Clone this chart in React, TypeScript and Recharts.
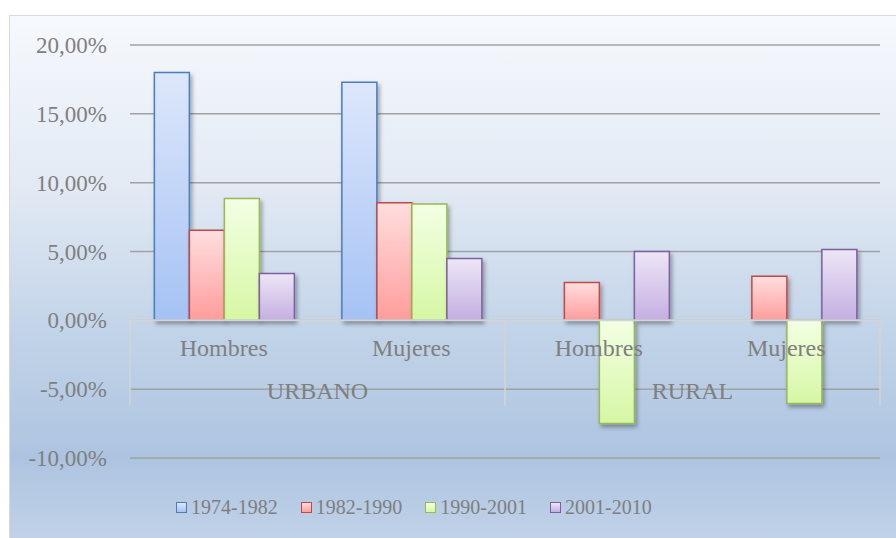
import { Bar, BarChart, CartesianGrid, ReferenceLine, XAxis, YAxis } from "recharts";

const categories = ["Hombres", "Mujeres", "Hombres", "Mujeres"];
const groups = ["URBANO", "URBANO", "RURAL", "RURAL"];
const p1974 = [18.0, 17.3, 0, 0];
const p1982 = [6.55, 8.55, 2.75, 3.2];
const p1990 = [8.85, 8.45, -7.5, -6.05];
const p2001 = [3.4, 4.5, 5.0, 5.15];
const yTicks = [-10, -5, 0, 5, 10, 15, 20];

const SERIES = [
  { key: "p1974", name: "1974-1982", stroke: "#4a7ebb", top: "#dde7fb", bottom: "#a5c2f4" },
  { key: "p1982", name: "1982-1990", stroke: "#be4b48", top: "#ffdede", bottom: "#ff9d9c" },
  { key: "p1990", name: "1990-2001", stroke: "#98b954", top: "#f3ffe4", bottom: "#d6f7a4" },
  { key: "p2001", name: "2001-2010", stroke: "#7d60a0", top: "#ede6f6", bottom: "#c4afe1" },
];

const data = categories.map((cat, i) => ({
  id: `${groups[i]}-${cat}`,
  cat,
  group: groups[i],
  p1974: p1974[i],
  p1982: p1982[i],
  p1990: p1990[i],
  p2001: p2001[i],
}));

const FONT = "'Liberation Serif', 'Times New Roman', serif";
const TEXT = "#7f7f7f";
const LINE = "#d4d4d4";

const fmt = (v: number) => `${v.toFixed(2).replace(".", ",")}%`;

// two-level category axis drawn along the zero line
function CategoryAxis(props: any) {
  const { x, y, width } = props.viewBox;
  const band = width / categories.length;
  const items: any[] = [];
  categories.forEach((c, i) => {
    items.push(
      <text key={`c${i}`} x={x + band * (i + 0.5)} y={y + 36} textAnchor="middle" fontSize={24} fill={TEXT} fontFamily={FONT}>
        {c}
      </text>
    );
    if (i === 0 || groups[i] !== groups[i - 1]) {
      let n = 1;
      while (groups[i + n] === groups[i]) n++;
      items.push(
        <line key={`s${i}`} x1={x + band * i} x2={x + band * i} y1={y} y2={y + 85} stroke={LINE} strokeWidth={1.5} />,
        <text key={`g${i}`} x={x + band * (i + n / 2)} y={y + 79} textAnchor="middle" fontSize={24} fill={TEXT} fontFamily={FONT}>
          {groups[i]}
        </text>
      );
    }
  });
  items.push(
    <line key="end" x1={x + width} x2={x + width} y1={y} y2={y + 85} stroke={LINE} strokeWidth={1.5} />
  );
  return <g>{items}</g>;
}

export default function App() {
  return (
    <div style={{ position: "absolute", left: 0, top: 0, width: 896, height: 538, overflow: "hidden" }}>
      <div
        style={{
          position: "absolute",
          left: 9,
          top: 15,
          width: 920,
          height: 560,
          border: "1px solid #d9d9d9",
          background:
            "linear-gradient(to bottom, #f6f9fd 0%, #e3eaf4 30%, #c1d3e8 57%, #adc4e0 79%, #c9d8ec 100%)",
        }}
      />
      <div style={{ position: "absolute", left: 0, top: 0 }}>
        <BarChart
          width={896}
          height={538}
          data={data}
          margin={{ top: 45, right: 16, bottom: 80, left: 0 }}
          barCategoryGap="13%"
          barGap={0}
        >
          <defs>
            {SERIES.map((s) => (
              <linearGradient key={s.key} id={`grad-${s.key}`} x1="0" y1="0" x2="0" y2="1">
                <stop offset="0%" stopColor={s.top} />
                <stop offset="100%" stopColor={s.bottom} />
              </linearGradient>
            ))}
            <filter id="barShadow" x="-20%" y="-20%" width="150%" height="150%">
              <feDropShadow dx="2" dy="3" stdDeviation="2" floodColor="#000" floodOpacity="0.35" />
            </filter>
          </defs>
          <CartesianGrid vertical={false} stroke="#a2a2a2" strokeWidth={1.5} />
          <XAxis dataKey="id" hide />
          <YAxis
            width={130}
            domain={[-10, 20]}
            ticks={yTicks}
            interval={0}
            tickFormatter={fmt}
            tickLine={false}
            axisLine={false}
            tickSize={0}
            tickMargin={23}
            tick={{ fill: TEXT, fontSize: 23, fontFamily: FONT }}
          />
          {SERIES.map((s) => (
            <Bar
              key={s.key}
              dataKey={s.key}
              name={s.name}
              fill={`url(#grad-${s.key})`}
              stroke={s.stroke}
              strokeWidth={1.5}
              filter="url(#barShadow)"
              isAnimationActive={false}
            />
          ))}
          <ReferenceLine y={0} stroke={LINE} strokeWidth={2} label={<CategoryAxis />} />
        </BarChart>
      </div>
      <div
        style={{
          position: "absolute",
          left: 176,
          top: 494,
          display: "flex",
          gap: 23,
          fontFamily: FONT,
          fontSize: 20,
          color: TEXT,
          lineHeight: "26px",
        }}
      >
        {SERIES.map((s) => (
          <div key={s.key} style={{ display: "flex", alignItems: "center" }}>
            <span
              style={{
                width: 9,
                height: 9,
                border: `1.5px solid ${s.stroke}`,
                background: `linear-gradient(to bottom, ${s.top}, ${s.bottom})`,
                marginRight: 4,
                display: "inline-block",
              }}
            />
            {s.name}
          </div>
        ))}
      </div>
    </div>
  );
}
